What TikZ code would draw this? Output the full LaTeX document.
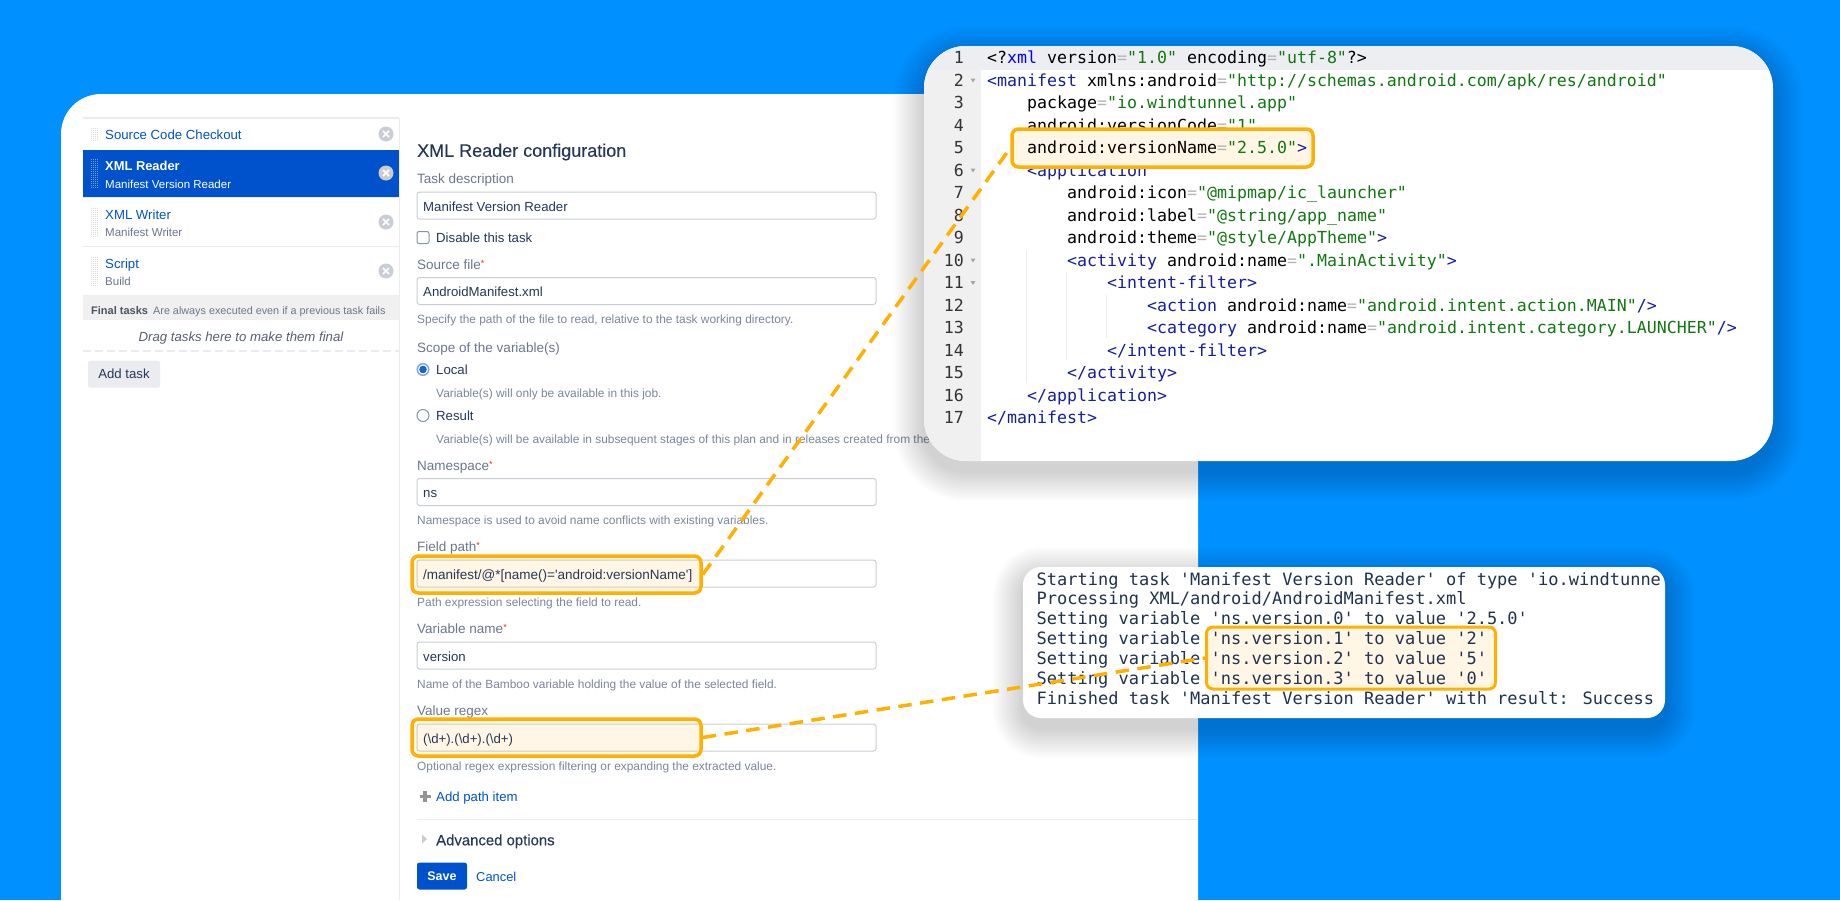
\documentclass[tikz,border=0pt]{standalone}
\usepackage{xcolor}
\usepackage{fontspec}
\setmainfont{Liberation Sans}
\newfontfamily\uifont[Ligatures=ResetAll]{Liberation Sans}
\newfontfamily\mediumfont[FakeBold=0.25]{Liberation Sans}
\newfontfamily\codefont[Ligatures=ResetAll]{DejaVu Sans Mono}
\definecolor{skyblue}{HTML}{0090FF}
\definecolor{linkblue}{HTML}{0052CC}
\definecolor{inktext}{HTML}{253858}
\definecolor{labelgray}{HTML}{6B778C}
\definecolor{helpgray}{HTML}{7A869A}
\definecolor{edgegray}{HTML}{C9CED6}
\definecolor{palegray}{HTML}{EBECF0}
\definecolor{gutter}{HTML}{F0F0F0}
\definecolor{hlline}{HTML}{FFB000}
\definecolor{hlcream}{HTML}{FFF6E5}
\definecolor{tagblue}{HTML}{14209A}
\definecolor{strgreen}{HTML}{117711}
\definecolor{eqgray}{HTML}{B4B4B4}
\definecolor{reqred}{HTML}{DE350B}
\newcommand{\ct}[1]{\textcolor{tagblue}{#1}}
\newcommand{\cs}[1]{\textcolor{strgreen}{#1}}
\newcommand{\ce}{\textcolor{eqgray}{=}}
\newcommand{\reqmark}{\textcolor{reqred}{\raisebox{2.5pt}{\fontsize{9}{9}\selectfont*}}}
\newcommand{\softshadow}[5]{\foreach \s in {2,4,...,30}
	\fill[black,opacity=0.012,rounded corners={#5+\s}] ({#1-\s},{#2-\s+10}) rectangle ({#3+\s},{#4+\s+10});}
\newcommand{\gripbars}[2]{\foreach \g in {91.5,93.5,95.5,97.5}
	\draw[#2,line width=1.2,dash pattern=on 1.2pt off 0.8pt] (\g,#1);}
\newcommand{\closemark}[3]{\fill[#3] (386,#1) circle (7.5);
	\draw[white,line width=#2] (383,{#1-3}) -- (389,{#1+3}) (389,{#1-3}) -- (383,{#1+3});}
\tikzset{
	tasktitle/.style={anchor=west,inner sep=0,text height=10,text depth=0,text=linkblue,font=\uifont\fontsize{13.2}{15}\selectfont},
	tasksub/.style={anchor=west,inner sep=0,text height=10,text depth=0,text=labelgray,font=\uifont\fontsize{11.5}{14}\selectfont},
	uilabel/.style={anchor=west,inner sep=0,text height=10,text depth=0,text=labelgray,font=\uifont\fontsize{13.5}{15}\selectfont},
	fieldtext/.style={anchor=west,inner sep=0,text height=9.5,text depth=0,text=inktext,font=\uifont\fontsize{13.2}{15}\selectfont},
	helptext/.style={anchor=west,inner sep=0,text height=10,text depth=0,text=helpgray,font=\uifont\fontsize{11.9}{14}\selectfont},
	inputbox/.style={draw=edgegray,line width=1,fill=white,rounded corners=2.5,minimum width=459,minimum height=27,inner sep=0},
	hlbox/.style={draw=hlline,line width=3.5,fill=hlcream,rounded corners=6.5,inner sep=0},
	codeline/.style={anchor=west,inner sep=0,text height=11,text depth=0,text=black,font=\codefont\fontsize{16.6}{20}\selectfont},
	lineno/.style={anchor=east,inner sep=0,text height=11,text depth=0,text=black!80,font=\codefont\fontsize{16.6}{20}\selectfont},
	logline/.style={anchor=west,inner sep=0,text height=12,text depth=0,text=inktext!90!black,font=\codefont\fontsize{17}{20}\selectfont},
	linkdash/.style={draw=hlline,line width=3.5,dash pattern=on 13.5pt off 8.5pt}
}
\begin{document}
\begin{tikzpicture}[x=1pt,y=-1pt]
	\path[use as bounding box,clip] (0,0) rectangle (1840,900);
	\fill[skyblue] (0,0) rectangle (1840,900);
	\fill[white,rounded corners=40] (61,960) rectangle (1198,94);
	\fill[palegray] (83,117) rectangle (399,119);
	\draw[palegray,line width=1.5] (399.5,118) -- (399.5,900);
	\fill[linkblue] (83,150) rectangle (399,197);
	\draw[palegray,line width=1] (83,246) -- (399,246) (83,197.5) -- (399,197.5);
	\fill[gutter] (83,295) rectangle (399,320);
	\draw[palegray,line width=1.5,dash pattern=on 8pt off 4pt] (83,351) -- (399,351);
	\gripbars{128) -- (\g,141}{edgegray!70!white}
	\gripbars{159) -- (\g,188}{white!45!linkblue}
	\gripbars{208) -- (\g,237}{edgegray!70!white}
	\gripbars{257) -- (\g,286}{edgegray!70!white}
	\closemark{134}{1.5}{edgegray}
	\closemark{173}{1.5}{white!60!gray}
	\closemark{222}{1.5}{edgegray}
	\closemark{271}{1.5}{edgegray}
	\node[tasktitle] (srctask) at (105,134) {Source Code Checkout};
	\node[tasktitle,text=white,font=\bfseries\fontsize{12.9}{15}\selectfont] (readtask) at (105,165) {XML Reader};
	\node[tasksub,text=white] (readsub) at (105,183) {Manifest Version Reader};
	\node[tasktitle] (writetask) at (105,214) {XML Writer};
	\node[tasksub] (writesub) at (105,231) {Manifest Writer};
	\node[tasktitle] (scripttask) at (105,263) {Script};
	\node[tasksub] (scriptsub) at (105,280) {Build};
	\node[tasksub,text=labelgray!70!black,font=\bfseries\fontsize{11}{14}\selectfont] (finaltitle) at (91,309) {Final tasks};
	\node[tasksub,font=\uifont\fontsize{10.8}{14}\selectfont] (finalnote) at (153,309) {Are always executed even if a previous task fails};
	\node[tasksub,anchor=center,font=\itshape\fontsize{13.2}{15}\selectfont,text=labelgray!80!black] (dragnote) at (241,336) {Drag tasks here to make them final};
	\node[fill=palegray,rounded corners=2.5,minimum width=72,minimum height=27,inner sep=0,text=inktext,font=\uifont\fontsize{13.2}{15}\selectfont] (addtask) at (124,374) {Add task};
	\node[anchor=west,inner sep=0,text height=11.5,text depth=0,text=inktext,font=\mediumfont\fontsize{18}{20}\selectfont] (cfgtitle) at (417,151) {XML Reader configuration};
	\node[uilabel] (desclabel) at (417,178) {Task description};
	\node[inputbox] (descinput) at (646.5,205.5) {};
	\node[fieldtext] (desctext) at (423,206.5) {Manifest Version Reader};
	\node[draw=labelgray!80!white,line width=1,rounded corners=2,minimum size=12,inner sep=0] (disablebox) at (423,237.5) {};
	\node[fieldtext] (disabletext) at (436,238) {Disable this task};
	\node[uilabel] (srclabel) at (417,264) {Source file\reqmark};
	\node[inputbox] (srcinput) at (646.5,291) {};
	\node[fieldtext] (srctext) at (423,292) {AndroidManifest.xml};
	\node[helptext] (srchelp) at (417,318) {Specify the path of the file to read, relative to the task working directory.};
	\node[uilabel] (scopelabel) at (417,347) {Scope of the variable(s)};
	\node[circle,draw=linkblue!50!white,line width=1.5,fill=white,minimum size=11.5,inner sep=0] (localradio) at (423,369.5) {};
	\fill[linkblue!90!white] (localradio.center) circle (3.8);
	\node[fieldtext] (localtext) at (436,370) {Local};
	\node[helptext] (localhelp) at (436,392) {Variable(s) will only be available in this job.};
	\node[circle,draw=labelgray!80!white,line width=1,minimum size=12,inner sep=0] (resultradio) at (423,415.5) {};
	\node[fieldtext] (resulttext) at (436,416) {Result};
	\node[helptext] (resulthelp) at (436,438) {Variable(s) will be available in subsequent stages of this plan and in releases created from the re};
	\node[uilabel] (nslabel) at (417,465) {Namespace\reqmark};
	\node[inputbox] (nsinput) at (646.5,492) {};
	\node[fieldtext] (nstext) at (423,493) {ns};
	\node[helptext] (nshelp) at (417,519) {Namespace is used to avoid name conflicts with existing variables.};
	\node[uilabel] (pathlabel) at (417,546) {Field path\reqmark};
	\node[inputbox] (pathinput) at (646.5,573.5) {};
	\node[hlbox,fill=hlline,fill opacity=0.1,minimum width=289,minimum height=37] (hlfield) at (556.5,574.5) {};
	\node[fieldtext,font=\uifont\fontsize{13.5}{15}\selectfont] (pathtext) at (423,575) {/manifest/@*[name()='android:versionName']};
	\node[helptext] (pathhelp) at (417,601) {Path expression selecting the field to read.};
	\node[uilabel] (varlabel) at (417,628) {Variable name\reqmark};
	\node[inputbox] (varinput) at (646.5,655.5) {};
	\node[fieldtext] (vartext) at (423,656.5) {version};
	\node[helptext] (varhelp) at (417,683) {Name of the Bamboo variable holding the value of the selected field.};
	\node[uilabel] (regexlabel) at (417,710) {Value regex};
	\node[inputbox] (regexinput) at (646.5,737.5) {};
	\node[hlbox,fill=hlline,fill opacity=0.1,minimum width=289,minimum height=37] (hlregex) at (556.5,737.5) {};
	\node[fieldtext] (regextext) at (423,738.5) {(\textbackslash d+).(\textbackslash d+).(\textbackslash d+)};
	\node[helptext] (regexhelp) at (417,765) {Optional regex expression filtering or expanding the extracted value.};
	\draw[gray!85,line width=3.5] (419.5,796.5) -- (430.5,796.5) (425,791) -- (425,802);
	\node[fieldtext,text=linkblue] (addpath) at (436,797) {Add path item};
	\draw[palegray,line width=1] (417,819.5) -- (1198,819.5);
	\fill[edgegray] (422,834.5) -- (427,839) -- (422,843.5) -- cycle;
	\node[anchor=west,inner sep=0,text height=10.5,text depth=0,text=inktext,font=\mediumfont\fontsize{14.9}{18}\selectfont] (advtext) at (436,840) {Advanced options};
	\node[fill=linkblue,rounded corners=2.5,minimum width=50,minimum height=27,inner sep=0,text=white,font=\bfseries\fontsize{12.5}{15}\selectfont] (savebtn) at (442,876) {Save};
	\node[fieldtext,text=linkblue,font=\uifont\fontsize{12.9}{15}\selectfont] (cancelbtn) at (476,877) {Cancel};
	\softshadow{924}{46}{1773}{461}{42}
	\softshadow{1023}{567}{1665}{718}{18}
	\fill[white,rounded corners=42] (924,46) rectangle (1773,461);
	\begin{scope}
		\clip[rounded corners=42] (924,46) rectangle (1773,461);
		\fill[gutter] (924,46) rectangle (981,461);
		\fill[palegray!90!white] (924,46) rectangle (1773,70);
	\end{scope}
	\draw[palegray,line width=1] (1026.5,250) -- (1026.5,383) (1066.5,272) -- (1066.5,360) (1106.5,295) -- (1106.5,338);
	\foreach \n/\txt in {1/{1},2/{2},3/{3},4/{4},5/{5},6/{6},7/{7},8/{8},9/{9},10/{10},11/{11},12/{12},13/{13},14/{14},15/{15},16/{16},17/{17}}
		\node[lineno] (num\n) at (964,{58+22.5*(\n-1)}) {\txt};
	\foreach \n in {2,6,10,11}
		\fill[gray!70] (970.5,{56+22.5*(\n-1)}) -- (975.5,{56+22.5*(\n-1)}) -- (973,{60+22.5*(\n-1)}) -- cycle;
	\foreach \n/\col/\txt in {
		1/0/{<?\textcolor{blue}{xml} version\ce\cs{"1.0"} encoding\ce\cs{"utf-8"}?>},
		2/0/{\ct{<manifest} xmlns:android\ce\cs{"http://schemas.android.com/apk/res/android"}},
		3/4/{package\ce\cs{"io.windtunnel.app"}},
		4/4/{android:versionCode\ce\cs{"1"}},
		6/4/{\ct{<application}},
		7/8/{android:icon\ce\cs{"@mipmap/ic\_launcher"}},
		8/8/{android:label\ce\cs{"@string/app\_name"}},
		9/8/{android:theme\ce\cs{"@style/AppTheme"}\ct{>}},
		10/8/{\ct{<activity} android:name\ce\cs{".MainActivity"}\ct{>}},
		11/12/{\ct{<intent-filter>}},
		12/16/{\ct{<action} android:name\ce\cs{"android.intent.action.MAIN"}\ct{/>}},
		13/16/{\ct{<category} android:name\ce\cs{"android.intent.category.LAUNCHER"}\ct{/>}},
		14/12/{\ct{</intent-filter>}},
		15/8/{\ct{</activity>}},
		16/4/{\ct{</application>}},
		17/0/{\ct{</manifest>}}}
		\node[codeline] (line\n) at ({987+10*\col},{58+22.5*(\n-1)}) {\txt};
	\node[hlbox,minimum width=301,minimum height=38] (hlcode) at (1162.5,148) {};
	\node[codeline] (line5) at (1027,148) {android:versionName\ce\cs{"2.5.0"}\ct{>}};
	\fill[white,rounded corners=18] (1023,567) rectangle (1665,718);
	\node[hlbox,line width=3,minimum width=289,minimum height=62] (hllog) at (1351,658) {};
	\foreach \n/\txt in {
		0/{Starting task 'Manifest Version Reader' of type 'io.windtunne},
		1/{Processing XML/android/AndroidManifest.xml},
		2/{Setting variable 'ns.version.0' to value '2.5.0'},
		3/{Setting variable 'ns.version.1' to value '2'},
		4/{Setting variable 'ns.version.2' to value '5'},
		5/{Setting variable 'ns.version.3' to value '0'},
		6/{Finished task 'Manifest Version Reader' with result: Success}}
		\node[logline] (log\n) at (1036.5,{579+19.9*\n}) {\txt};
	\draw[linkdash] (hlfield.east) -- (hlcode.west);
	\draw[linkdash] (hlregex.east) -- (hllog.west);
\end{tikzpicture}
\end{document}
